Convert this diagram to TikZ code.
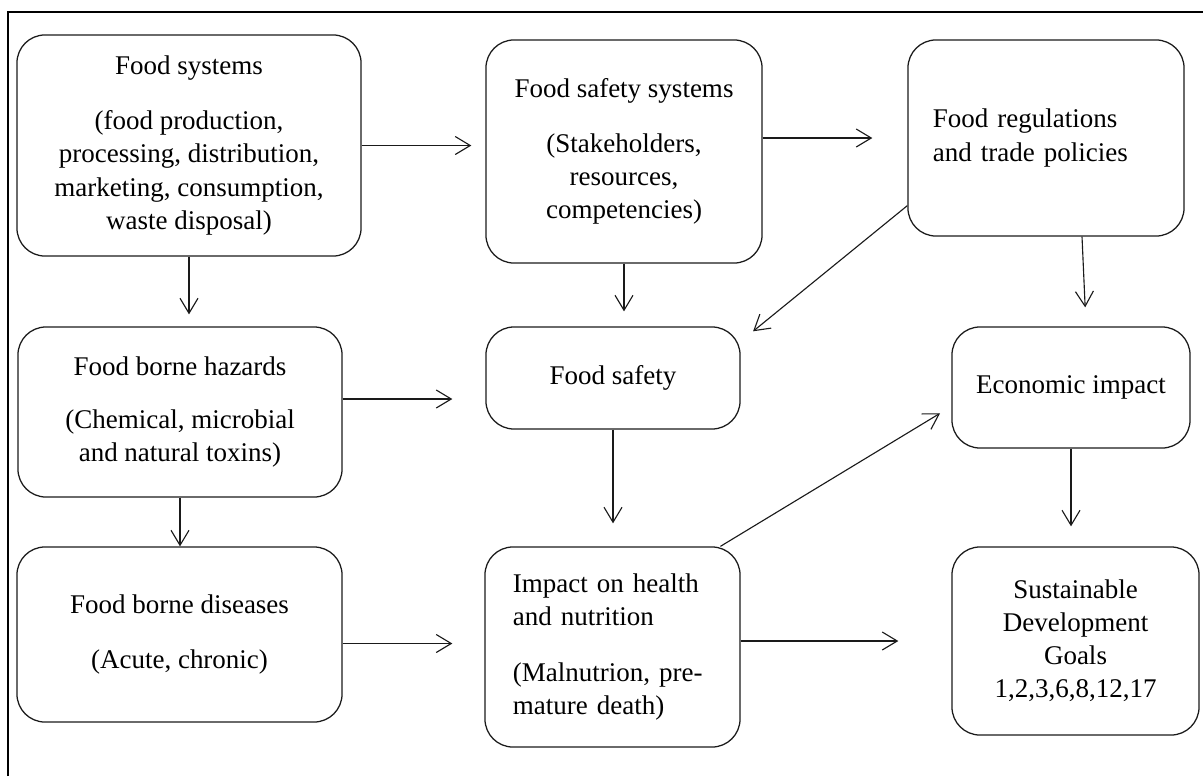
\documentclass[tikz,border=0pt]{standalone}
\usepackage{fontspec}
\setmainfont{Liberation Serif}
\usepackage{xcolor}
\usepackage{tikz}
\usetikzlibrary{arrows.meta, positioning, calc}
\definecolor{fsline}{HTML}{1A1A1A}
\tikzset{
  roundbox/.style={draw=fsline, line width=0.9pt, rounded corners=0.7cm,
    inner sep=0pt, align=center, font=\fontsize{19.2pt}{23.5pt}\selectfont},
  flow/.style={-{Straight Barb[length=0.375cm, width=0.45cm]}, line width=0.8pt, fsline},
}

\begin{document}
\begin{tikzpicture}[x=0.025cm, y=-0.025cm]
  \useasboundingbox (0,0) rectangle (1203,776);
  % frame (cropped, only left and top edges show)
  \draw[line width=1.6pt] (8,776) -- (8,12) -- (1203,12);
  % top row
  \node[roundbox, minimum width=8.6cm, minimum height=5.525cm] (fsys) at (189,145.5)
    {Food systems\\[0.55cm](food production,\\processing, distribution,\\marketing, consumption,\\waste disposal)};
  \node[roundbox, minimum width=6.9cm, minimum height=5.575cm] (fss) at (624,151.5)
    {Food safety systems\\[0.55cm](Stakeholders,\\resources,\\competencies)};
  \node[roundbox, minimum width=6.9cm, minimum height=4.9cm, align=left, text width=5.65cm] (freg) at (1046,138)
    {Food regulations\\and trade policies};
  % middle row
  \node[roundbox, minimum width=8.1cm, minimum height=4.25cm] (fbh) at (180,412)
    {Food borne hazards\\[0.5cm](Chemical, microbial\\and natural toxins)};
  \node[roundbox, minimum width=6.35cm, minimum height=2.55cm] (fsafe) at (613,378) {Food safety};
  \node[roundbox, minimum width=5.95cm, minimum height=3.025cm] (econ) at (1071,387.5) {Economic impact};
  % bottom row
  \node[roundbox, minimum width=8.125cm, minimum height=4.375cm] (fbd) at (179.5,634.5)
    {Food borne diseases\\[0.55cm](Acute, chronic)};
  \node[roundbox, minimum width=6.375cm, minimum height=5cm, align=left, text width=4.975cm] (impact) at (612.5,647)
    {Impact on health\\and nutrition\\[0.55cm](Malnutrion, pre-\\mature death)};
  \node[roundbox, minimum width=6.175cm, minimum height=4.7cm] (sdg) at (1075.5,641)
    {Sustainable\\Development\\Goals\\1,2,3,6,8,12,17};
  % horizontal links
  \draw[flow, shorten >=0.35cm] (fsys.east) -- (fsys.east -| fss.west);
  \draw[flow, shorten >=0.875cm] (fss.east |- freg.west) -- (freg.west);
  \draw[flow, shorten >=0.825cm] ([yshift=0.325cm]fbh.east) -- ([yshift=0.325cm]fbh.east -| fsafe.west);
  \draw[flow, shorten >=0.8cm] ([yshift=-0.225cm]fbd.east) -- ([yshift=-0.225cm]fbd.east -| impact.west);
  \draw[flow, shorten >=1.325cm] (impact.east |- sdg.west) -- (sdg.west);
  % vertical links
  \foreach \a/\b/\s in {fsys/fbh/0.3, fss/fsafe/0.375, fbh/fbd/0, fsafe/impact/0.575, econ/sdg/0.5}
    \draw[flow, shorten >=\s cm] (\a.south) -- (\a.south |- \b.north);
  \draw[flow, shorten >=0.475cm] ([xshift=0.9cm]freg.south) -- ([xshift=0.375cm]econ.north);
  % diagonal links
  \draw[flow, shorten >=0.4cm] (freg.206) -- (fsafe.16);
  \draw[flow, shorten >=0.33cm] (impact.43) -- (econ.189);
\end{tikzpicture}
\end{document}
